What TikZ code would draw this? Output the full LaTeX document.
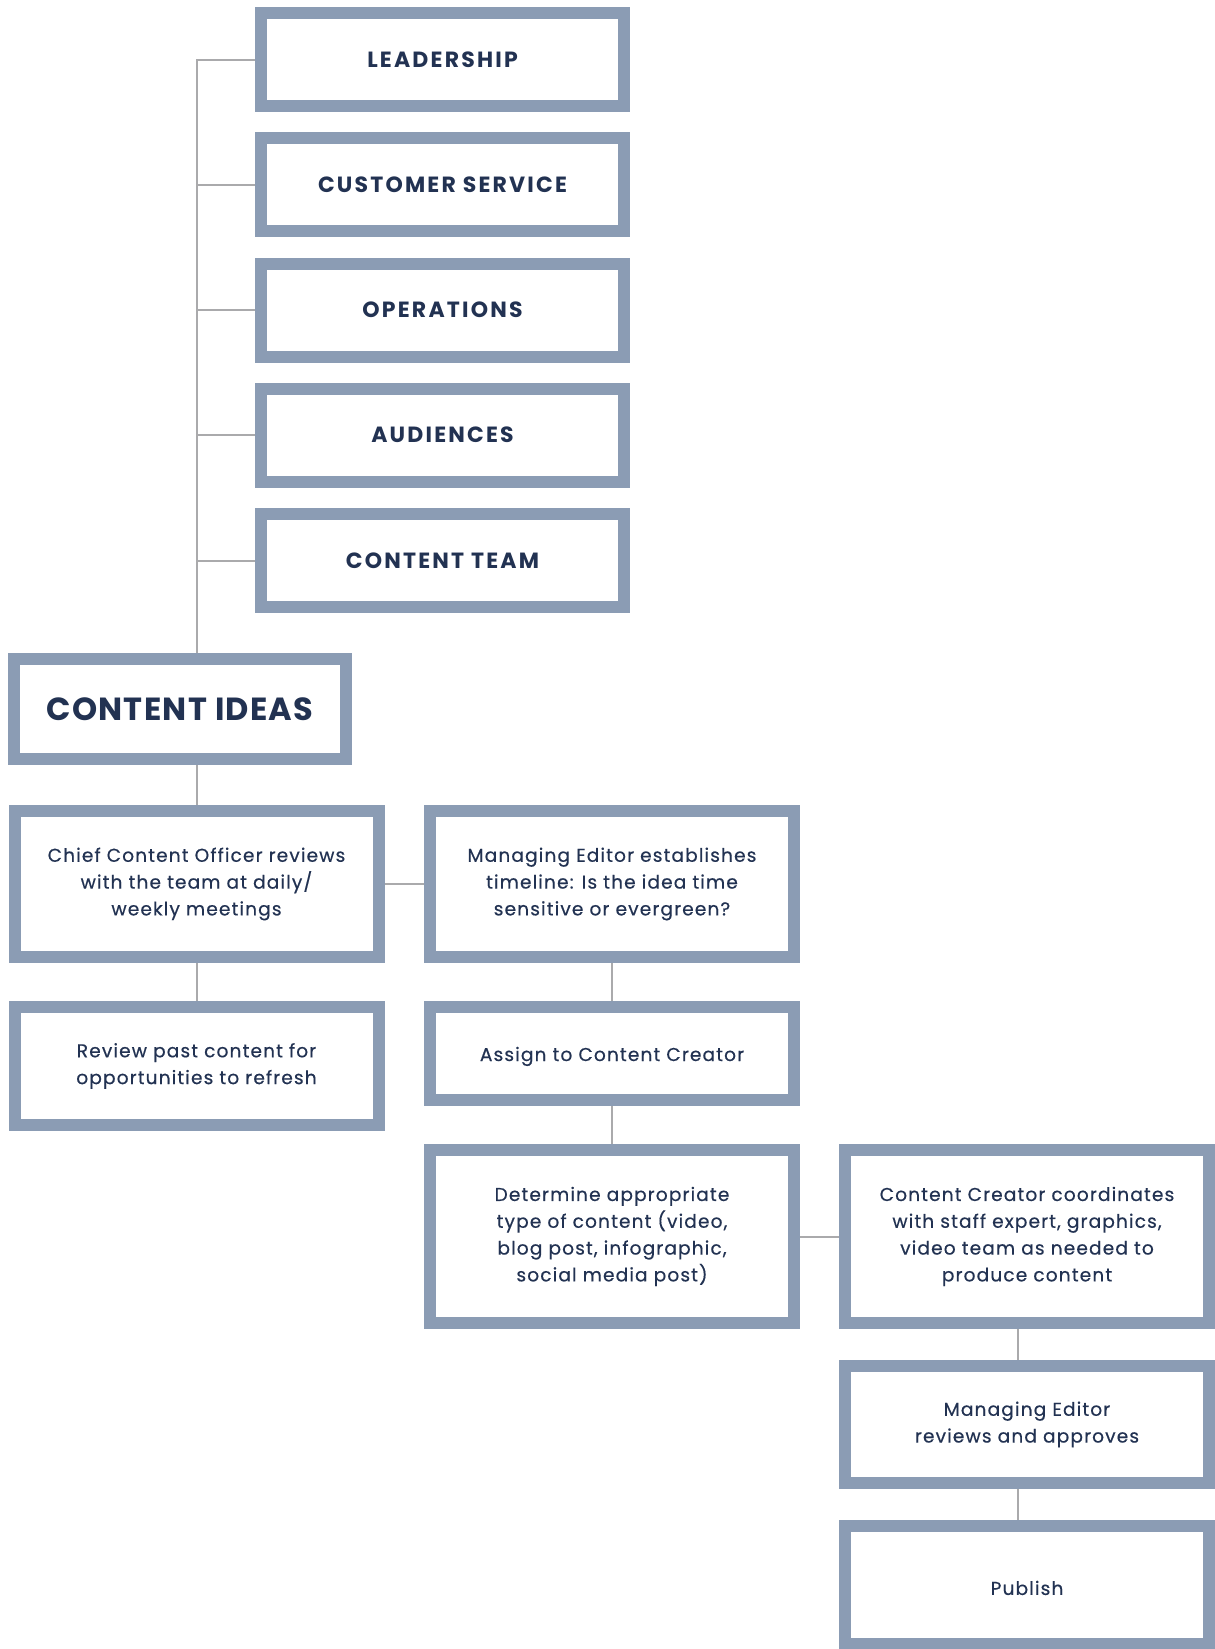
\documentclass[tikz,border=0pt]{standalone}
\usepackage{fontspec}
\setmainfont{Poppins}
\definecolor{boxline}{RGB}{139,156,180}
\definecolor{inkblue}{RGB}{34,50,82}
\definecolor{linkgray}{RGB}{170,170,172}

\begin{document}
\begin{tikzpicture}[x=0.5pt,y=-0.5pt,
  box/.style={draw=boxline,line width=6pt,fill=white,text=inkblue,align=center,inner sep=0pt},
  head/.style={box,minimum width=181.5pt,minimum height=46.5pt,text height=7.8pt,text depth=0pt,font=\addfontfeatures{LetterSpace=10}\bfseries\fontsize{11}{13}\selectfont},
  task/.style={box,minimum width=182pt,execute at begin node={\rule{0pt}{10pt}},font=\addfontfeatures{LetterSpace=6,FakeBold=0.4}\fontsize{9.3}{13.4}\selectfont},
  link/.style={draw=linkgray,line width=1pt}]
   \useasboundingbox (0,0) rectangle (1215,1649);
   \node[head] (lead) at (442.5,59.5) {LEADERSHIP};
   \node[head] (cust) at (442.5,184.5) {CUSTOMER SERVICE};
   \node[head] (oper) at (442.5,310) {OPERATIONS};
   \node[head] (aud) at (442.5,435) {AUDIENCES};
   \node[head] (team) at (442.5,560.5) {CONTENT TEAM};
   \node[box,minimum width=166pt,minimum height=50pt,text height=11.5pt,text depth=0pt,font=\addfontfeatures{LetterSpace=4}\bfseries\fontsize{16}{18}\selectfont] (ideas) at (180,709) {CONTENT IDEAS};
   \node[task,minimum height=73pt] (chief) at (196.5,884) {Chief Content Officer reviews\\with the team at daily/\\weekly meetings};
   \node[task,minimum height=73pt] (timeline) at (612,884) {Managing Editor establishes\\timeline: Is the idea time\\sensitive or evergreen?};
   \node[task,minimum height=59pt] (review) at (196.5,1066) {Review past content for\\opportunities to refresh};
   \node[task,minimum height=46.5pt] (assign) at (612,1053.5) {Assign to Content Creator};
   \node[task,minimum height=86.5pt] (type) at (612,1236.5) {Determine appropriate\\type of content (video,\\blog post, infographic,\\social media post)};
   \node[task,minimum height=86.5pt] (coord) at (1027,1236.5) {Content Creator coordinates\\with staff expert, graphics,\\video team as needed to\\produce content};
   \node[task,minimum height=58.5pt] (approve) at (1027,1424.5) {Managing Editor\\reviews and approves};
   \node[task,minimum height=59pt] (publish) at (1027,1585) {Publish};
   \draw[link] (lead.west) -| (chief.north |- ideas.north);
   \draw[link] (cust.west) -- (cust.west -| chief.north);
   \draw[link] (oper.west) -- (oper.west -| chief.north);
   \draw[link] (aud.west) -- (aud.west -| chief.north);
   \draw[link] (team.west) -- (team.west -| chief.north);
   \draw[link] (chief.north |- ideas.south) -- (chief.north);
   \draw[link] (chief.east) -- (timeline.west);
   \draw[link] (chief.south) -- (review.north);
   \draw[link] (timeline.south) -- (assign.north);
   \draw[link] (assign.south) -- (type.north);
   \draw[link] (type.east) -- (coord.west);
   \draw[link] ([xshift=-4.5pt]coord.south) -- ([xshift=-4.5pt]approve.north);
   \draw[link] ([xshift=-4.5pt]approve.south) -- ([xshift=-4.5pt]publish.north);
\end{tikzpicture}
\end{document}
